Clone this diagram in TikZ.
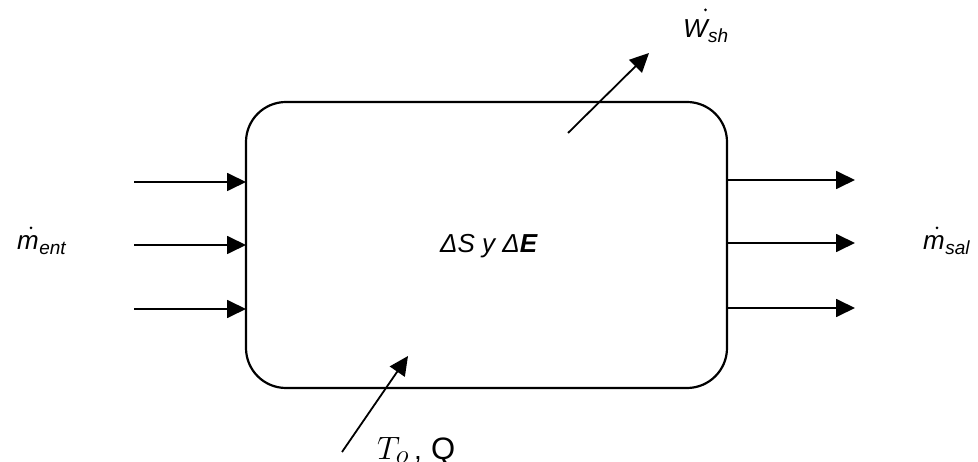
\documentclass[tikz,border=0pt]{standalone}
\usepackage{fontspec}
\usepackage{graphicx}
\setmainfont{Liberation Sans}
\usetikzlibrary{arrows.meta}
\tikzset{
  flow/.style={line width=1.8pt, -{Triangle[length=19pt,width=18pt]}},
  big/.style={font=\fontsize{26}{30}\selectfont\itshape, inner sep=0pt, anchor=base west},
  small/.style={font=\fontsize{19}{22}\selectfont\itshape, inner sep=0pt, anchor=base west},
  plain/.style={inner sep=0pt, anchor=base west},
  flowdot/.style={fill=black, radius=1.5pt}
}
\begin{document}
\begin{tikzpicture}[x=1pt,y=-1pt]
\useasboundingbox (0,0) rectangle (978,462);
% control volume
\draw[line width=2.2pt, rounded corners=40pt] (246,102) rectangle (727,388);
% inlet streams
\foreach \i/\y in {1/182,2/245,3/309}{
  \coordinate (in\i) at (134,\y);
  \coordinate (inb\i) at (246,\y);
  \draw[flow] (in\i) -- (inb\i);
}
% outlet streams
\foreach \i/\y in {1/180,2/243,3/308}{
  \coordinate (outb\i) at (727,\y);
  \coordinate (out\i) at (855,\y);
  \draw[flow] (outb\i) -- (out\i);
}
% shaft work
\coordinate (w0) at (568,133);
\coordinate (w1) at (649,53);
\draw[flow] (w0) -- (w1);
% heat transfer
\coordinate (q0) at (342,452);
\coordinate (q1) at (408,356);
\draw[flow] (q0) -- (q1);
% mass flow in
\node[big] (mE) at (17,250) {m};
\node[small] (ent) at ([yshift=-5pt]mE.base east) {ent};
\fill[flowdot] ([xshift=3pt,yshift=8pt]mE.north) circle;
% mass flow out
\node[big] (mS) at (923,250) {m};
\node[small] (sal) at ([yshift=-5pt]mS.base east) {sal};
\fill[flowdot] ([xshift=3pt,yshift=8pt]mS.north) circle;
% shaft work label
\node[big] (W) at (683,38) {W};
\node[small] (sh) at ([yshift=-5pt]W.base east) {sh};
\fill[flowdot] ([xshift=10pt,yshift=10pt]W.north) circle;
% entropy and energy change
\node[big] (dsde) at (440,253) {ΔS y Δ\textbf{E}};
% boundary temperature and heat
\node[plain, font=\fontsize{24.88}{30}\selectfont] (To) at (377,459) {\scalebox{1.3}{$T_o$}};
\node[plain, font=\fontsize{28}{32}\selectfont] (comma) at (414,459) {,};
\node[plain, font=\fontsize{31}{35}\selectfont] (Q) at (431,459) {Q};
\end{tikzpicture}
\end{document}
